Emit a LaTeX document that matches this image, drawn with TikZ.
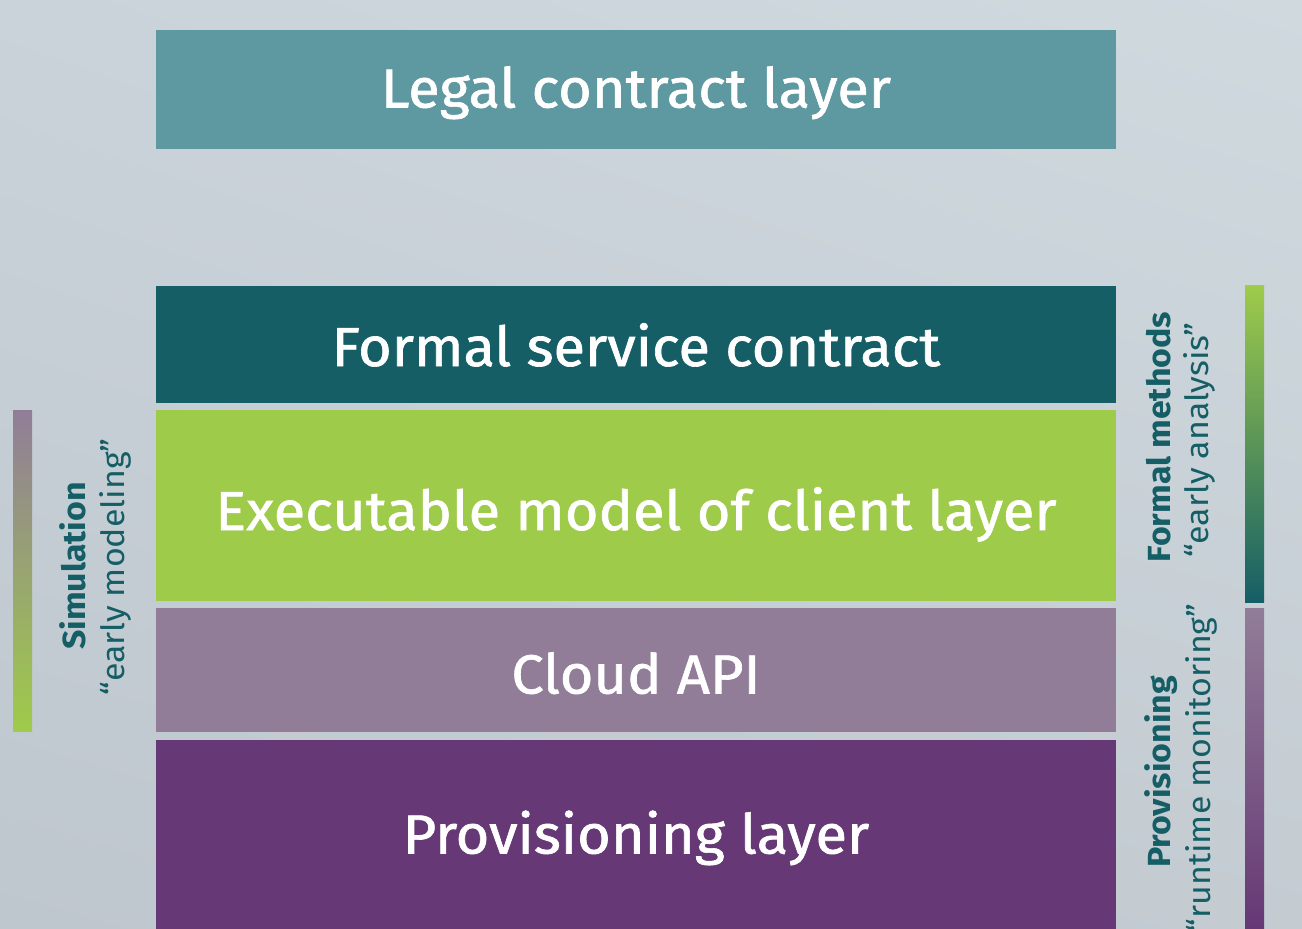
\documentclass[tikz,border=0pt]{standalone}
\usepackage{fontspec}
\usetikzlibrary{shadings}
\setmainfont{Fira Sans}
\newfontfamily\layerfont{Fira Sans}[FakeBold=1.2, FakeStretch=1.05]
\newfontfamily\sidefont{Fira Sans}[FakeStretch=1.06]
\definecolor{bgtl}{HTML}{CBD3DA}
\definecolor{bgtr}{HTML}{CFD9DE}
\definecolor{bgbl}{HTML}{BFC7CE}
\definecolor{bgbr}{HTML}{C4CCD2}
\definecolor{legal}{HTML}{5E98A0}
\definecolor{teal}{HTML}{155E66}
\definecolor{lime}{HTML}{9FCB4A}
\definecolor{mauve}{HTML}{917D98}
\definecolor{plum}{HTML}{663875}
\tikzset{
  layer/.style={inner sep=0pt, minimum width=960pt, text=white, text height=38pt, text depth=4pt,
    font=\layerfont\fontsize{55}{60}\selectfont},
  sidebold/.style={rotate=90, inner sep=0pt, text=teal, font=\sidefont\bfseries\fontsize{32}{36}\selectfont},
  sidelight/.style={rotate=90, inner sep=0pt, text=teal, font=\sidefont\fontsize{32}{36}\selectfont},
}
\begin{document}
\begin{tikzpicture}[x=1pt,y=-1pt]
\useasboundingbox (0,0) rectangle (1302,929);
\shade[upper left=bgtl, upper right=bgtr, lower left=bgbl, lower right=bgbr] (0,0) rectangle (1302,929);
% layers
\node[layer, fill=legal, minimum height=119pt, text height=40pt] (legalc) at (636,89.5) {Legal contract layer};
\node[layer, fill=teal, minimum height=117pt, text height=47pt] (formal) at (636,344.5) {Formal service contract};
\node[layer, fill=lime, minimum height=191pt, text height=53pt] (exec) at (636,505.5) {Executable model of client layer};
\node[layer, fill=mauve, minimum height=124pt, text height=51pt] (cloud) at (636,670) {Cloud API};
\node[layer, fill=plum, minimum height=189pt, text height=42pt] (prov) at (636,834.5) {Provisioning layer};
% side bars
\shade[top color=mauve, bottom color=lime] (13,410) rectangle (32,731);
\shade[top color=lime, bottom color=teal] (1245,285) rectangle (1264,602);
\shade[top color=mauve, bottom color=plum] (1245,608) rectangle (1264,929);
% side labels
\node[sidebold] (simb) at (73,566) {Simulation};
\node[sidelight] (siml) at (115,567) {“early modeling”};
\node[sidebold] (fmb) at (1159,437) {Formal methods};
\node[sidelight] (fml) at (1199,440) {“early analysis”};
\node[sidebold] (pvb) at (1161,772) {Provisioning};
\node[sidelight] (pvl) at (1201,768) {“runtime monitoring”};
\end{tikzpicture}
\end{document}
